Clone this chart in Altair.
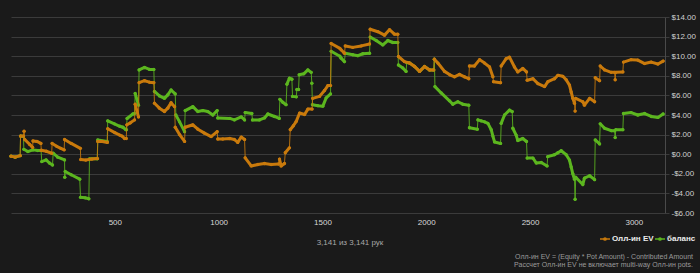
import altair as alt
import pandas as pd

# ---- data ----
ev_hands = [0, 20, 44, 46, 60, 63, 66, 90, 104, 106, 125, 144, 146, 170, 196, 198, 220, 240, 256, 258,
            290, 334, 336, 360, 390, 416, 418, 440, 464, 466, 500, 524, 535, 547, 555, 558, 575, 595, 598, 614,
            617, 643, 667, 688, 691, 715, 739, 755, 771, 788, 791, 812, 836, 839, 876, 900, 932, 964, 993, 996,
            1020, 1054, 1076, 1092, 1109, 1125, 1128, 1157, 1189, 1221, 1253, 1289, 1293, 1301, 1317, 1321, 1341, 1345, 1360, 1374,
            1390, 1414, 1430, 1450, 1453, 1486, 1510, 1526, 1539, 1542, 1584, 1590, 1606, 1610, 1646, 1687, 1727, 1730, 1767, 1799,
            1823, 1847, 1863, 1866, 1895, 1920, 1944, 1968, 1992, 2016, 2036, 2039, 2056, 2088, 2114, 2136, 2160, 2184, 2205, 2208,
            2232, 2257, 2281, 2305, 2321, 2324, 2358, 2361, 2385, 2401, 2425, 2441, 2465, 2483, 2486, 2514, 2538, 2570, 2586, 2618,
            2634, 2658, 2674, 2690, 2698, 2706, 2714, 2717, 2720, 2754, 2762, 2787, 2811, 2814, 2835, 2838, 2859, 2891, 2907, 2910,
            2913, 2947, 2950, 2987, 3019, 3052, 3084, 3116, 3141]
ev_values = [-0.2, -0.3, -0.15, 1.85, 1.85, 2.35, 1.5, 1.0, 0.7, 1.35, 1.3, 1.1, 0.4, 0.3, 0.1, 1.1, 0.8, 0.6, 0.45, 1.5,
             1.1, 0.6, -0.55, -0.6, -0.5, -0.45, 1.3, 1.3, 1.2, 2.6, 2.2, 1.95, 1.85, 1.6, 1.6, 3.0, 3.2, 3.5, 5.1, 3.8,
             7.3, 7.5, 7.35, 7.3, 5.2, 4.7, 4.35, 4.7, 5.25, 4.85, 2.75, 2.0, 1.3, 2.75, 3.0, 2.55, 2.15, 1.8, 2.3, 1.55,
             1.55, 1.6, 1.5, 1.2, 1.75, 1.5, -0.37, -1.2, -1.05, -0.95, -1.05, -1.0, -0.5, -1.2, -0.95, 0.15, 0.65, 2.5, 2.9, 3.35,
             4.2, 4.05, 4.6, 4.6, 5.7, 5.9, 6.5, 7.0, 7.0, 11.3, 10.8, 10.65, 10.3, 11.05, 10.9, 11.05, 11.25, 12.75, 12.5, 12.15,
             12.7, 12.25, 12.25, 9.97, 9.45, 9.3, 8.95, 8.45, 8.95, 8.6, 8.6, 9.7, 9.3, 8.45, 8.1, 7.9, 8.15, 7.9, 7.7, 9.0,
             9.0, 9.65, 9.3, 8.9, 7.9, 7.4, 7.3, 9.0, 9.75, 9.9, 8.9, 8.4, 8.75, 8.4, 7.55, 7.7, 7.2, 6.9, 7.4, 7.7,
             8.05, 7.95, 7.6, 7.05, 6.35, 5.7, 5.2, 4.4, 5.7, 5.35, 5.0, 5.7, 5.35, 7.8, 7.5, 9.0, 8.6, 8.35, 8.35, 7.6,
             8.35, 8.4, 9.4, 9.65, 9.6, 9.25, 9.4, 9.2, 9.5]

bal_hands = [0, 20, 44, 46, 60, 62, 81, 105, 129, 145, 148, 169, 185, 200, 203, 225, 258, 259, 261, 290,
             331, 335, 357, 375, 378, 415, 418, 463, 466, 498, 524, 539, 553, 556, 559, 587, 595, 598, 614, 617,
             643, 667, 688, 691, 715, 739, 755, 771, 791, 794, 812, 836, 839, 876, 900, 924, 948, 972, 993, 996,
             1054, 1076, 1109, 1125, 1128, 1160, 1163, 1197, 1221, 1237, 1269, 1292, 1295, 1309, 1325, 1329, 1341, 1353, 1356, 1374,
             1377, 1385, 1388, 1410, 1430, 1446, 1449, 1452, 1478, 1502, 1518, 1539, 1542, 1584, 1590, 1606, 1610, 1646, 1671, 1695,
             1727, 1730, 1759, 1791, 1815, 1839, 1863, 1866, 1887, 1903, 1906, 1920, 1944, 1968, 1992, 2016, 2036, 2039, 2042, 2072,
             2112, 2128, 2152, 2176, 2205, 2208, 2246, 2249, 2265, 2281, 2297, 2313, 2321, 2329, 2358, 2361, 2377, 2401, 2414, 2417,
             2433, 2441, 2465, 2483, 2486, 2514, 2530, 2554, 2582, 2585, 2618, 2634, 2650, 2674, 2690, 2698, 2706, 2714, 2717, 2720,
             2754, 2762, 2787, 2811, 2814, 2835, 2838, 2859, 2891, 2907, 2910, 2913, 2947, 2950, 2987, 3019, 3052, 3084, 3116, 3141]
bal_values = [-0.2, -0.3, -0.15, 1.85, 1.8, 0.5, 0.27, 0.44, 0.37, 0.37, -0.75, -0.58, -0.9, -1.1, 0.1, -0.3, -0.58, -2.34, -1.76, -2.1,
              -2.55, -4.4, -4.45, -4.55, -0.47, -0.47, 1.46, 1.3, 3.4, 3.1, 2.85, 2.75, 2.5, 2.5, 3.65, 4.1, 4.15, 6.2, 5.0, 8.6,
              8.85, 8.65, 8.65, 6.4, 5.95, 5.7, 6.05, 6.55, 6.15, 4.0, 3.3, 2.3, 4.45, 4.85, 4.35, 4.45, 4.35, 4.0, 4.45, 3.7,
              3.65, 3.5, 3.8, 3.5, 4.25, 4.15, 3.5, 3.5, 3.7, 4.1, 3.85, 3.65, 5.6, 5.3, 5.05, 7.15, 7.75, 7.65, 5.9, 5.85,
              6.6, 6.6, 8.1, 8.2, 8.6, 8.35, 7.25, 5.05, 4.95, 4.9, 5.75, 6.15, 10.5, 10.0, 9.8, 9.45, 10.3, 10.15, 10.05, 10.25,
              10.3, 11.95, 11.6, 11.15, 11.6, 11.4, 11.4, 9.1, 8.8, 8.45, 9.35, 9.3, 8.95, 8.45, 8.95, 8.6, 8.6, 9.7, 6.9, 6.25,
              5.45, 5.1, 5.35, 5.1, 5.0, 2.7, 2.55, 3.5, 3.4, 3.3, 3.15, 2.5, 1.85, 1.25, 1.1, 3.15, 4.0, 4.5, 4.35, 2.65,
              1.95, 1.4, 1.6, 1.3, -0.4, -0.4, -0.9, -0.85, -1.2, -0.25, -0.05, 0.15, 0.35, -0.05, -0.6, -1.3, -2.0, -2.55, -4.6, -2.35,
              -3.1, -2.45, -2.2, -2.6, 1.45, 1.05, 3.1, 2.65, 2.4, 2.4, 1.7, 2.5, 2.5, 4.15, 4.25, 4.0, 4.15, 3.85, 3.75, 4.1]

x_ticks = [500, 1000, 1500, 2000, 2500, 3000]
y_ticks = [-6, -4, -2, 0, 2, 4, 6, 8, 10, 12, 14]
series_names = ["Олл-ин EV", "баланс"]
series_colors = ["#c97a0c", "#5cb61f"]
caption = "3,141 из 3,141 рук"
note_lines = ["Олл-ин EV = (Equity * Pot Amount) - Contributed Amount",
              "Рассчет Олл-ин EV не включает multi-way Олл-ин pots."]

FONT = "Liberation Sans"
BG = "#1a1a1a"
W, H = 654, 196


def frame(hands, values):
    df = pd.DataFrame({"hand": hands, "value": values})
    dh = df["hand"].diff().fillna(99)
    dv = df["value"].diff().abs().fillna(0)
    df["seg"] = ((dh <= 4) & (dv > 0.45)).cumsum()
    return df


xs = alt.Scale(domain=[0, 3150], nice=False, zero=False)
ys = alt.Scale(domain=[-6, 14], nice=False, zero=False)

label_expr = "datum.value < 0 ? '-$' + format(-datum.value, '.2f') : '$' + format(datum.value, '.2f')"

X_ENC = alt.X("hand:Q", scale=xs, axis=alt.Axis(values=x_ticks, format="d", grid=False, domain=False,
                                                ticks=False, labelColor="#d8d8d8", labelFontSize=8,
                                                labelFont=FONT, labelPadding=5, title=None))
Y_ENC = alt.Y("value:Q", scale=ys, axis=alt.Axis(orient="right", values=y_ticks, labelExpr=label_expr,
                                                 grid=True, gridColor="#3b3b3b", gridWidth=1,
                                                 domain=True, domainColor="#4a4a4a", ticks=True,
                                                 tickColor="#3b3b3b", tickSize=4, labelColor="#d0d0d0",
                                                 labelFontSize=8, labelFont=FONT, labelPadding=2,
                                                 title=None))


def series_layers(df, color):
    base = alt.Chart(df)
    thin = base.mark_line(color=color, strokeWidth=1, opacity=0.85).encode(x=X_ENC, y=Y_ENC, order="hand:Q")
    thick = base.mark_line(color=color, strokeWidth=3.0, strokeCap="round", strokeJoin="round").encode(
        x=X_ENC, y=Y_ENC, detail="seg:N", order="hand:Q")
    dots = base.mark_circle(color=color, size=11, opacity=1).encode(x=X_ENC, y=Y_ENC)
    return [thin, thick, dots]


bal_df = frame(bal_hands, bal_values)
ev_df = frame(ev_hands, ev_values)

layers = series_layers(bal_df, series_colors[1]) + series_layers(ev_df, series_colors[0])

# caption under the axis
cap = alt.Chart(pd.DataFrame({"t": [caption]})).mark_text(
    font=FONT, fontSize=8, color="#a8a8a8", align="center", baseline="middle").encode(
    x=alt.value(339), y=alt.value(226), text="t:N")

# legend (symbol + label per series)
leg_x0 = [589, 644]
leg_layers = []
for i in range(2):
    row = pd.DataFrame({"name": [series_names[i]]})
    c = series_colors[i]
    x0 = leg_x0[i]
    leg_layers.append(alt.Chart(row).mark_rule(color=c, strokeWidth=1.5).encode(
        x=alt.value(x0), x2=alt.value(x0 + 10), y=alt.value(222)))
    leg_layers.append(alt.Chart(row).mark_circle(color=c, size=14, opacity=1).encode(
        x=alt.value(x0 + 5), y=alt.value(222)))
    leg_layers.append(alt.Chart(row).mark_text(font=FONT, fontSize=8, fontWeight="bold", color="#ececec",
                                               align="left", baseline="middle").encode(
        x=alt.value(x0 + 12), y=alt.value(222), text="name:N"))

note_layers = []
for i, yy in enumerate([239.5, 247.5]):
    note_layers.append(alt.Chart(pd.DataFrame({"t": [note_lines[i]]})).mark_text(
        font=FONT, fontSize=7, color="#9a9a9a", align="right", baseline="middle").encode(
        x=alt.value(682), y=alt.value(yy), text="t:N"))

chart = alt.layer(*layers, cap, *leg_layers, *note_layers).properties(
    width=W, height=H,
    autosize=alt.AutoSizeParams(type="none"),
    padding={"left": 11, "top": 17, "right": 35, "bottom": 60},
    background=BG,
).configure_view(stroke=None)

chart.save("out.html", embed_options={"renderer": "svg", "actions": False})
